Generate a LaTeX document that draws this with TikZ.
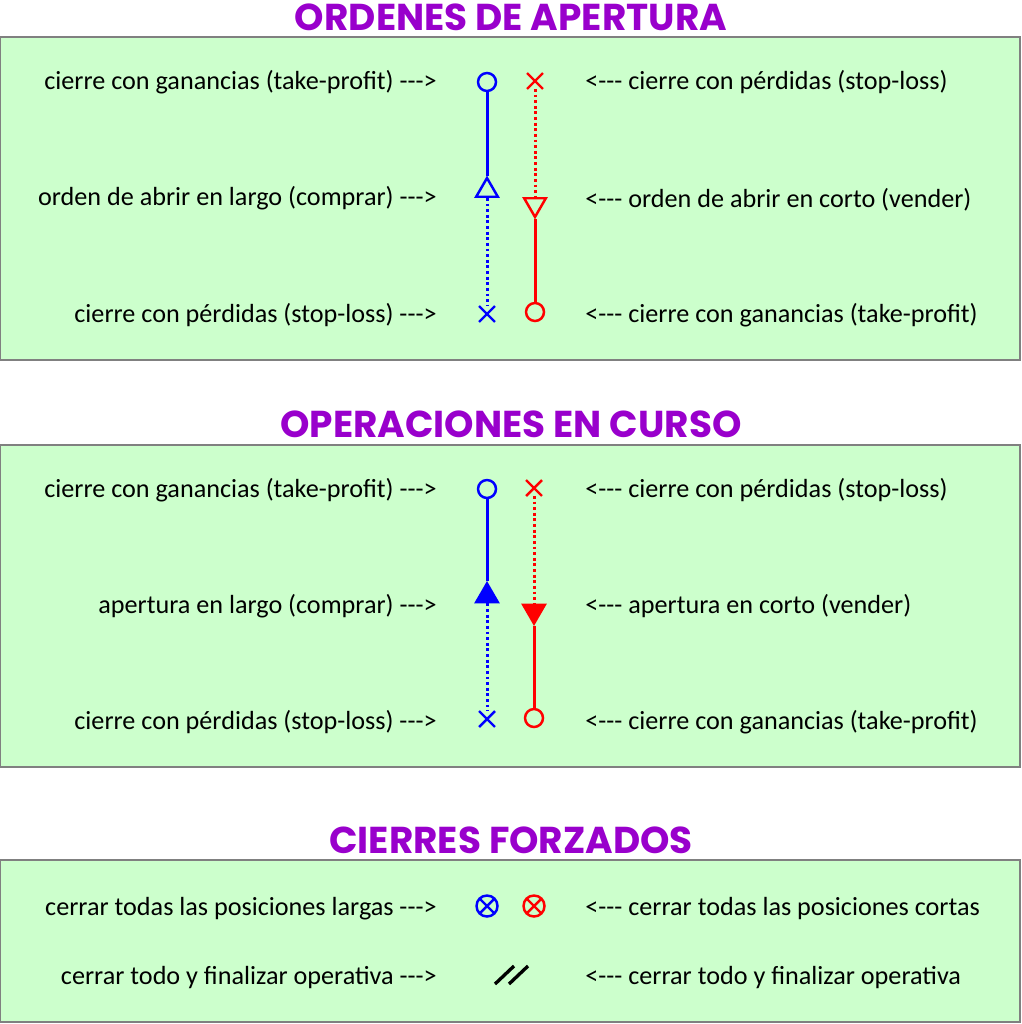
\documentclass[tikz,border=0pt]{standalone}
\usepackage{fontspec}
\setmainfont{Carlito}
\newfontfamily\titlefont{Poppins}
\usetikzlibrary{shapes.geometric,shapes.misc}
\definecolor{panelgreen}{HTML}{CCFFCC}
\definecolor{titlepurple}{HTML}{9900CC}
\definecolor{longblue}{HTML}{0000FF}
\definecolor{shortred}{HTML}{FF0000}
\newcommand\toright{-{}-{}->}
\newcommand\toleft{<-{}-{}-}

\begin{document}
\begin{tikzpicture}[x=0.02cm,y=-0.02cm,
  panel/.style={draw=black!50,line width=0.8pt,fill=panelgreen},
  heading/.style={font=\titlefont\bfseries\fontsize{21.3}{25}\selectfont,text=titlepurple},
  lefttxt/.style={anchor=east,inner sep=0pt,yshift=-1pt,font=\fontsize{14.9}{17}\selectfont},
  righttxt/.style={anchor=west,inner sep=0pt,yshift=-1pt,font=\fontsize{14.9}{17}\selectfont},
  tpmark/.style={circle,draw,line width=1.4pt,minimum size=0.36cm,inner sep=0pt},
  slmark/.style={cross out,draw,line width=1.4pt,minimum size=0.27cm,inner sep=0pt},
  upmark/.style={regular polygon,regular polygon sides=3,draw,line width=1.4pt,
    minimum size=0.5cm,inner sep=0pt},
  downmark/.style={upmark,shape border rotate=180},
  closemark/.style={circle,draw,line width=1.4pt,minimum size=0.42cm,inner sep=0pt,
    path picture={\draw[line width=1.4pt] (path picture bounding box.north west) -- (path picture bounding box.south east)
      (path picture bounding box.north east) -- (path picture bounding box.south west);}},
  solidleg/.style={line width=1.7pt},
  dotleg/.style={line width=1.7pt,dash pattern=on 1.6pt off 1.6pt}]
  \useasboundingbox (0,0) rectangle (1021,1024);

  % ordenes de apertura
  \node[heading] (headA) at (511,17) {ORDENES DE APERTURA};
  \draw[panel] (0,37) rectangle (1020,360);
  \node[lefttxt] (aL1) at (437,80) {cierre con ganancias (take-profit) \toright};
  \node[lefttxt] (aL2) at (437,196) {orden de abrir en largo (comprar) \toright};
  \node[lefttxt] (aL3) at (437,313) {cierre con pérdidas (stop-loss) \toright};
  \node[righttxt] (aR1) at (585,80) {\toleft{} cierre con pérdidas (stop-loss)};
  \node[righttxt] (aR2) at (585,198) {\toleft{} orden de abrir en corto (vender)};
  \node[righttxt] (aR3) at (585,313) {\toleft{} cierre con ganancias (take-profit)};
  \node[tpmark,longblue] (aTpL) at (487,82) {};
  \node[upmark,longblue] (aOpL) at (487,190.5) {};
  \node[slmark,longblue] (aSlL) at (487,314) {};
  \node[slmark,shortred] (aSlS) at (535,81) {};
  \node[downmark,shortred] (aOpS) at (535,204.5) {};
  \node[tpmark,shortred] (aTpS) at (535,312) {};
  \draw[solidleg,longblue] (aTpL) -- (aOpL);
  \draw[dotleg,longblue] (aOpL) -- (aSlL);
  \draw[dotleg,shortred] (aSlS) -- (aOpS);
  \draw[solidleg,shortred] (aOpS) -- (aTpS);

  % operaciones en curso
  \node[heading] (headB) at (511,424) {OPERACIONES EN CURSO};
  \draw[panel] (0,445) rectangle (1020,767);
  \node[lefttxt] (bL1) at (437,488) {cierre con ganancias (take-profit) \toright};
  \node[lefttxt] (bL2) at (437,604) {apertura en largo (comprar) \toright};
  \node[lefttxt] (bL3) at (437,720) {cierre con pérdidas (stop-loss) \toright};
  \node[righttxt] (bR1) at (585,488) {\toleft{} cierre con pérdidas (stop-loss)};
  \node[righttxt] (bR2) at (585,604) {\toleft{} apertura en corto (vender)};
  \node[righttxt] (bR3) at (585,720) {\toleft{} cierre con ganancias (take-profit)};
  \node[tpmark,longblue] (bTpL) at (487,489) {};
  \node[upmark,longblue,fill=longblue] (bOpL) at (487,596) {};
  \node[slmark,longblue] (bSlL) at (487,719) {};
  \node[slmark,shortred] (bSlS) at (534,488) {};
  \node[downmark,shortred,fill=shortred] (bOpS) at (534,611) {};
  \node[tpmark,shortred] (bTpS) at (534,718) {};
  \draw[solidleg,longblue] (bTpL) -- (bOpL);
  \draw[dotleg,longblue] (bOpL) -- (bSlL);
  \draw[dotleg,shortred] (bSlS) -- (bOpS);
  \draw[solidleg,shortred] (bOpS) -- (bTpS);

  % cierres forzados
  \node[heading] (headC) at (511,840) {CIERRES FORZADOS};
  \draw[panel] (0,860) rectangle (1020,1022);
  \node[lefttxt] (cL1) at (437,907) {cerrar todas las posiciones largas \toright};
  \node[lefttxt] (cL2) at (437,976) {cerrar todo y finalizar operativa \toright};
  \node[righttxt] (cR1) at (585,907) {\toleft{} cerrar todas las posiciones cortas};
  \node[righttxt] (cR2) at (585,976) {\toleft{} cerrar todo y finalizar operativa};
  \node[closemark,longblue] (cClL) at (487,906) {};
  \node[closemark,shortred] (cClS) at (534,906) {};
  \draw[line width=1.9pt] (495,984) -- (514,966) (509,984) -- (528,966);
\end{tikzpicture}
\end{document}
